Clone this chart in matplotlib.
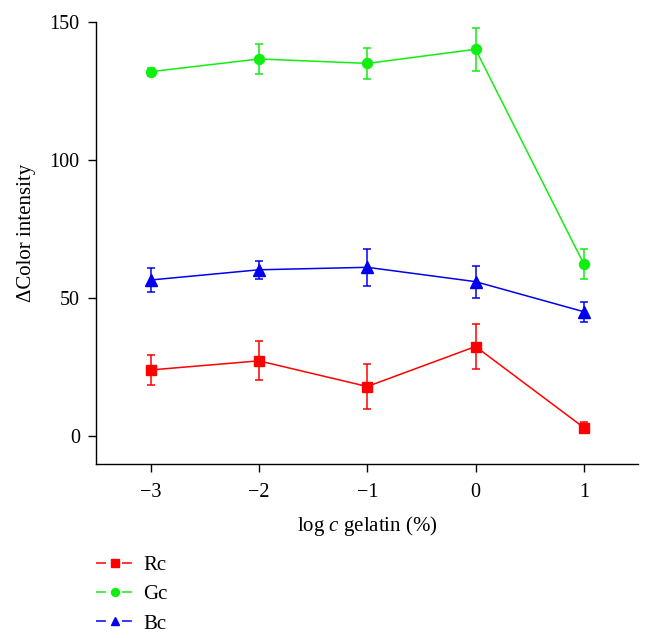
import matplotlib
matplotlib.use("Agg")
import matplotlib.pyplot as plt
from matplotlib.lines import Line2D

# Data
log_c = [-3, -2, -1, 0, 1]
rc = [23.9, 27.2, 17.9, 32.4, 3.0]
rc_err = [5.5, 7.1, 8.3, 8.3, 2.0]
gc = [132.0, 136.6, 135.0, 140.1, 62.3]
gc_err = [1.5, 5.6, 5.6, 7.9, 5.3]
bc = [56.5, 60.2, 61.1, 55.9, 45.0]
bc_err = [4.5, 3.3, 6.8, 5.8, 3.6]
series_labels = ["Rc", "Gc", "Bc"]
x_ticks = [-3, -2, -1, 0, 1]
y_ticks = [0, 50, 100, 150]

plt.rcParams['font.family'] = ['Liberation Serif', 'DejaVu Serif']
plt.rcParams['mathtext.fontset'] = 'custom'
plt.rcParams['mathtext.rm'] = 'Liberation Serif'
plt.rcParams['mathtext.it'] = 'Liberation Serif:italic'

W, H = 653, 638
fig = plt.figure(figsize=(W / 100, H / 100), dpi=100)
left, right, top, bottom = 96.5, 638, 22, 463.5
ax = fig.add_axes([left / W, (H - bottom) / H, (right - left) / W, (bottom - top) / H])

red = '#ff0000'
green = '#11ee11'
blue = '#0000ee'

styles = [(rc, rc_err, red, 's', 6.5), (gc, gc_err, green, 'o', 7.2), (bc, bc_err, blue, '^', 8.0)]
handles = []
for (vals, errs, col, mk, ms), lab in zip(styles, series_labels):
    ax.errorbar(log_c, vals, yerr=errs, color=col, marker=mk, markersize=ms,
                linewidth=1.1, elinewidth=1.1, capsize=3, capthick=1.1)
    handles.append(Line2D([0], [0], color=col, marker=mk, markersize=ms * 0.8,
                          linewidth=1.1, linestyle=(0, (6.5, 10.5))))

ax.set_xlim(-3.5, 1.5)
ax.set_ylim(-10, 150)
ax.set_xticks(x_ticks)
ax.set_xticklabels(["\u22123", "\u22122", "\u22121", "0", "1"])
ax.set_yticks(y_ticks)
ax.spines['top'].set_visible(False)
ax.spines['right'].set_visible(False)
ax.spines['left'].set_bounds(-10, 150)
for s in ['left', 'bottom']:
    ax.spines[s].set_linewidth(1.0)
ax.tick_params(axis='both', direction='out', length=6, width=1.0, labelsize=14.5)
ax.tick_params(axis='y', pad=6)
ax.tick_params(axis='x', pad=8)

ax.set_ylabel("\u0394Color intensity", fontsize=15, labelpad=10, y=0.523)
ax.set_xlabel("log $\\mathit{c}$ gelatin (%)", fontsize=15, labelpad=9)

fig.legend(handles, series_labels, loc='upper left', bbox_to_anchor=(88 / W, 1 - 547 / H),
           frameon=False, fontsize=15, handlelength=1.76, handletextpad=0.5,
           labelspacing=0.47, borderaxespad=0)

fig.savefig("out.png", dpi=100)
